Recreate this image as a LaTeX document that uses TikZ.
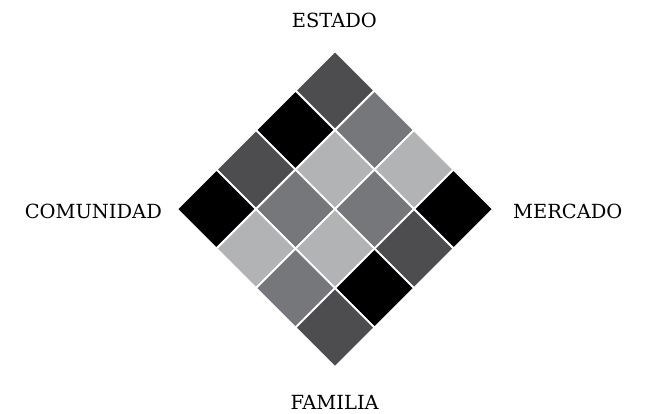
\documentclass[tikz,border=0pt]{standalone}
\usepackage{fontspec}
\setmainfont{DejaVu Serif}
\definecolor{oscuro}{HTML}{4D4D4F}
\definecolor{medio}{HTML}{76777A}
\definecolor{claro}{HTML}{B1B3B5}
\tikzset{
  celda/.style={draw=white, line width=1.6pt},
  etiqueta/.style={font=\fontsize{16.6}{20}\selectfont}
}
\begin{document}
\begin{tikzpicture}
    \useasboundingbox (0,0) rectangle (19.5,12.42);

    % rombo de 4x4 casillas
    \begin{scope}[shift={(10.05,10.89)}, rotate=-45, x=1.677cm, y=1.677cm]
        \foreach \u/\v/\c in {0/0/oscuro,
                              1/0/black, 0/1/medio,
                              2/0/oscuro, 1/1/claro, 0/2/claro,
                              3/0/black, 2/1/medio, 1/2/medio, 0/3/black,
                              3/1/claro, 2/2/claro, 1/3/oscuro,
                              3/2/medio, 2/3/black,
                              3/3/oscuro}
            \filldraw[celda, fill=\c] (\v,-\u) rectangle ++(1,-1);
    \end{scope}

    % etiquetas
    \node[etiqueta] (estado) at (10.03, 11.82) {ESTADO};
    \node[etiqueta, anchor=east] (comunidad) at (4.98, 6.08) {COMUNIDAD};
    \node[etiqueta, anchor=west] (mercado) at (15.27, 6.09) {MERCADO};
    \node[etiqueta] (familia) at (10.04, 0.345) {FAMILIA};
\end{tikzpicture}
\end{document}
